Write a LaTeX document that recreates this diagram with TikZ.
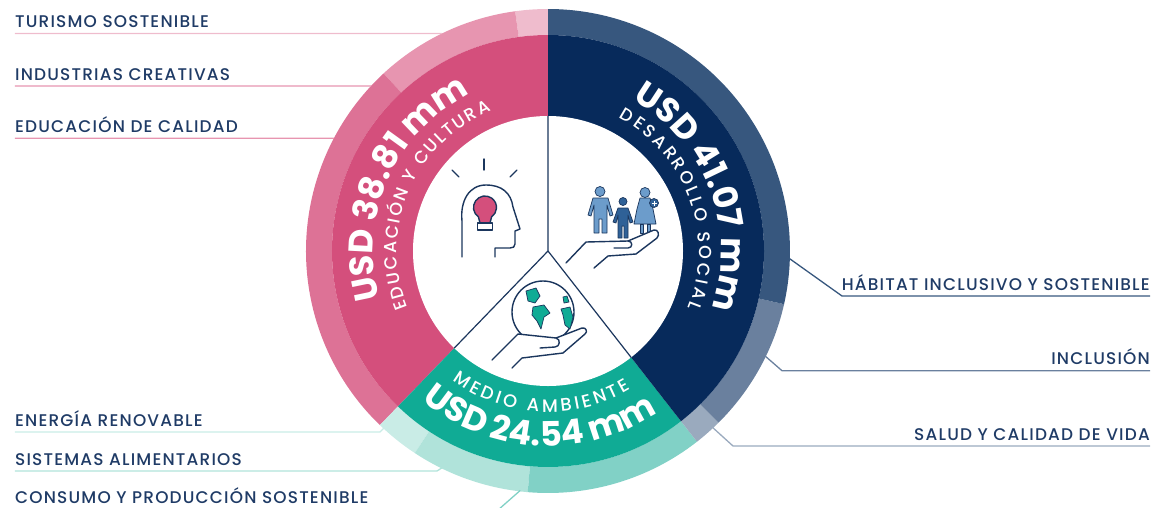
\documentclass[tikz,border=0pt]{standalone}
\usepackage{fontspec}
\setmainfont{Poppins}
\IfFontExistsTF{Poppins Medium}
	{\newfontfamily\lblfont{Poppins Medium}[LetterSpace=7]
	 \newfontfamily\smlfont{Poppins Medium}}
	{\newfontfamily\lblfont{Poppins}[LetterSpace=7, FakeBold=0.3]
	 \newfontfamily\smlfont{Poppins}[FakeBold=0.3]}
\newfontfamily\numfont{Poppins}
\usetikzlibrary{decorations.text, positioning}

\definecolor{pinkS}{HTML}{D44F7C}
\definecolor{pinkD}{HTML}{DD7296}
\definecolor{pinkM}{HTML}{E795B0}
\definecolor{pinkL}{HTML}{EFBCCD}
\definecolor{blueS}{HTML}{072A5B}
\definecolor{blueD}{HTML}{37577E}
\definecolor{blueM}{HTML}{6A809E}
\definecolor{blueL}{HTML}{9AAABE}
\definecolor{tealS}{HTML}{10AB95}
\definecolor{tealD}{HTML}{81D1C6}
\definecolor{tealM}{HTML}{B0E3DA}
\definecolor{tealL}{HTML}{C9ECE6}
\definecolor{txtnavy}{HTML}{1F3B66}
\definecolor{iconnavy}{HTML}{1B365D}
\definecolor{personL}{HTML}{6C9CCB}
\definecolor{personD}{HTML}{2F6197}

\begin{document}
\begin{tikzpicture}[x=1pt,y=1pt]
		\tikzstyle{Label} = [inner sep=0pt, text=txtnavy, font=\lblfont\fontsize{16.9}{18}\selectfont]
		\tikzstyle{leader} = [line width=1.3pt]
		\tikzstyle{spoke} = [draw=iconnavy, line width=1.2pt]
		\tikzstyle{icon} = [draw=iconnavy, line width=1.4pt, line join=round, line cap=round]
		\tikzstyle{person} = [draw=iconnavy, line width=0.7pt, line join=round]
		
		\useasboundingbox (-548,-256) rectangle (621,251);
		\clip (-548,-256) rectangle (621,251);
		
		% outer ring
		\fill[pinkL] (90:216) arc[start angle=90, end angle=97.8, radius=216] -- (97.8:242) arc[start angle=97.8, end angle=90, radius=242] -- cycle;
		\fill[pinkM] (97.8:216) arc[start angle=97.8, end angle=132.8, radius=216] -- (132.8:242) arc[start angle=132.8, end angle=97.8, radius=242] -- cycle;
		\fill[pinkD] (132.8:216) arc[start angle=132.8, end angle=226, radius=216] -- (226:242) arc[start angle=226, end angle=132.8, radius=242] -- cycle;
		\fill[tealL] (226:216) arc[start angle=226, end angle=236.6, radius=216] -- (236.6:242) arc[start angle=236.6, end angle=226, radius=242] -- cycle;
		\fill[tealM] (236.6:216) arc[start angle=236.6, end angle=265.2, radius=216] -- (265.2:242) arc[start angle=265.2, end angle=236.6, radius=242] -- cycle;
		\fill[tealD] (265.2:216) arc[start angle=265.2, end angle=308, radius=216] -- (308:242) arc[start angle=308, end angle=265.2, radius=242] -- cycle;
		\fill[blueL] (-52:216) arc[start angle=-52, end angle=-45.2, radius=216] -- (-45.2:242) arc[start angle=-45.2, end angle=-52, radius=242] -- cycle;
		\fill[blueM] (-45.2:216) arc[start angle=-45.2, end angle=-12.7, radius=216] -- (-12.7:242) arc[start angle=-12.7, end angle=-45.2, radius=242] -- cycle;
		\fill[blueD] (-12.7:216) arc[start angle=-12.7, end angle=90, radius=216] -- (90:242) arc[start angle=90, end angle=-12.7, radius=242] -- cycle;
		
		% sectors
		\fill[pinkS] (0,0) -- (90:216) arc[start angle=90, end angle=226, radius=216] -- cycle;
		\fill[tealS] (0,0) -- (226:216) arc[start angle=226, end angle=308, radius=216] -- cycle;
		\fill[blueS] (0,0) -- (-52:216) arc[start angle=-52, end angle=90, radius=216] -- cycle;
		\fill[white] (0,0) circle[radius=135];
		
		\coordinate (ctr) at (0,0);
		\coordinate (sp1) at (90:135);
		\coordinate (sp2) at (226:135);
		\coordinate (sp3) at (308:135);
		\draw[spoke] (sp1) -- (ctr) -- (sp2);
		\draw[spoke] (ctr) -- (sp3);
		
		% texts along the sectors
		\path[decorate, decoration={text along path, text color=white, text align=center,
			text={|\numfont\bfseries\fontsize{34}{36}\selectfont|USD 38.81 mm}}]
		(221:175) arc[start angle=221, end angle=91, radius=175];
		\path[decorate, decoration={text along path, text color=white, text align={fit to path},
			text={|\smlfont\fontsize{17.5}{19}\selectfont|EDUCACIÓN Y CULTURA}}]
		(202:151) arc[start angle=202, end angle=112, radius=151];
		
		\path[decorate, decoration={text along path, text color=white, text align=center,
			text={|\numfont\bfseries\fontsize{34}{36}\selectfont|USD 41.07 mm}}]
		(85:173) arc[start angle=85, end angle=-43.4, radius=173];
		\path[decorate, decoration={text along path, text color=white, text align={fit to path},
			text={|\smlfont\fontsize{17.5}{19}\selectfont|DESARROLLO SOCIAL}}]
		(62:151) arc[start angle=62, end angle=-22, radius=151];
		
		\path[decorate, decoration={text along path, text color=white, text align=center,
			text={|\numfont\bfseries\fontsize{34}{36}\selectfont|USD 24.54 mm}}]
		(227:195) arc[start angle=227, end angle=307, radius=195];
		\path[decorate, decoration={text along path, text color=white, text align={fit to path},
			text={|\smlfont\fontsize{18}{20}\selectfont|MEDIO AMBIENTE}}]
		(233.6:161) arc[start angle=233.6, end angle=301, radius=161];
		
		% head with bulb
		\draw[icon] (-96,81) -- (-89,74);
		\draw[icon] (-64,92) -- (-64,81);
		\draw[icon] (-31,81) -- (-38,74);
		\draw[icon] (-86,-6) -- (-86,30) .. controls (-88,50) and (-79,66) .. (-62,66) .. controls (-46,66) and (-37,58) .. (-35,44) -- (-28,22) -- (-33,20) -- (-33,7) .. controls (-33,4) and (-35,3) .. (-38,3) -- (-53,3) -- (-53,-6);
		\filldraw[icon, fill=pinkS] (-68,28) -- (-69.6,34.1) arc[start angle=235, end angle=-55, radius=11.5] -- (-58,28) -- cycle;
		\filldraw[icon, fill=white] (-70.5,28) rectangle (-55.5,21);
		
		% family on a hand
		\filldraw[person, fill=personL] (52,59.5) circle[radius=5];
		\filldraw[person, fill=personL] (45,53) -- (60,53) -- (65,36) -- (62,35) -- (59,46) -- (59,18) -- (54,18) -- (54,32) -- (51,32) -- (51,18) -- (46,18) -- (46,46) -- (43,35) -- (40,36) -- cycle;
		\filldraw[person, fill=personD] (75,49.5) circle[radius=4];
		\filldraw[person, fill=personD] (70,43) -- (80,43) -- (85,29) -- (82,28) -- (80,36) -- (80,13) -- (76,13) -- (76,25) -- (74,25) -- (74,13) -- (70,13) -- (70,36) -- (68,28) -- (65,29) -- cycle;
		\filldraw[person, fill=personL] (97,58.5) circle[radius=5];
		\filldraw[person, fill=personL] (92,53) -- (102,53) -- (105,42) -- (108,27) -- (86,27) -- (89,42) -- cycle;
		\filldraw[person, fill=personL] (92,27) rectangle (95,18);
		\filldraw[person, fill=personL] (99,27) rectangle (102,18);
		\filldraw[person, fill=personD] (106,48) circle[radius=4.5];
		\draw[white, line width=0.8pt] (103.5,48) -- (108.5,48) (106,45.5) -- (106,50.5);
		\filldraw[icon, fill=white] (18,-12) -- (38,9) -- (80,10) -- (106,21) .. controls (110,22) and (112,16) .. (109,13) -- (88,-3) -- (60,-5) -- (46,-17);
		\draw[icon] (80,10) .. controls (85,10) and (85,3) .. (80,3) -- (66,3);
		
		% globe on a hand
		\filldraw[icon, fill=white] (-5,-61) circle[radius=31];
		\filldraw[person, fill=tealS] (-22,-40) -- (-12,-37) -- (-8,-45) -- (-13,-52) -- (-20,-50) -- cycle;
		\filldraw[person, fill=tealS] (-15,-56) -- (-4,-54) -- (2,-62) -- (-4,-66) -- (-7,-78) -- (-11,-70) -- (-16,-64) -- cycle;
		\filldraw[person, fill=tealS] (13,-58) -- (22,-56) -- (25,-66) -- (22,-78) -- (17,-74) -- (15,-64) -- cycle;
		\filldraw[person, fill=tealS] (15,-46) -- (19,-45) -- (21,-51) -- (16,-52) -- cycle;
		\filldraw[icon, fill=white] (-56,-109) -- (-30,-83) -- (8,-87) -- (34,-77) .. controls (38,-76) and (40,-81) .. (37,-83) -- (15,-102) -- (-26,-107) -- (-36,-117);
		\draw[icon] (8,-87) .. controls (13,-88) and (12,-96) .. (7,-96) -- (-8,-97);
		
		% labels, left
		\coordinate (tur-a) at (-533,217.5);
		\coordinate (tur-p) at (116:242);
		\node (tur) [Label, anchor=base west] at (-533,223.5) {TURISMO SOSTENIBLE};
		\draw[leader, pinkL] (tur-a) -- (tur-p);
		
		\coordinate (ind-a) at (-533,165);
		\coordinate (ind-p) at (137:242);
		\node (ind) [Label, anchor=base west] at (-533,171) {INDUSTRIAS CREATIVAS};
		\draw[leader, pinkM] (ind-a) -- (ind-p);
		
		\coordinate (edu-a) at (-533,112.7);
		\coordinate (edu-p) at (152.25:242);
		\node (edu) [Label, anchor=base west] at (-533,118.7) {EDUCACIÓN DE CALIDAD};
		\draw[leader, pinkM] (edu-a) -- (edu-p);
		
		\coordinate (ene-a) at (-533,-181);
		\coordinate (ene-k) at (-168,-181);
		\coordinate (ene-p) at (227.2:241);
		\node (ene) [Label, anchor=base west] at (-533,-175) {ENERGÍA RENOVABLE};
		\draw[leader, tealL] (ene-a) -- (ene-k) -- (ene-p);
		
		\coordinate (sis-a) at (-533,-220);
		\coordinate (sis-k) at (-111,-220);
		\coordinate (sis-p) at (244:241);
		\node (sis) [Label, anchor=base west] at (-533,-214) {SISTEMAS ALIMENTARIOS};
		\draw[leader, tealM] (sis-a) -- (sis-k) -- (sis-p);
		
		\coordinate (con-a) at (-533,-259);
		\coordinate (con-k) at (-50,-259);
		\coordinate (con-p) at (263.4:241);
		\node (con) [Label, anchor=base west] at (-533,-252.3) {CONSUMO Y PRODUCCIÓN SOSTENIBLE};
		\draw[leader, tealD] (con-a) -- (con-k) -- (con-p);
		
		% labels, right
		\coordinate (hab-a) at (602,-45);
		\coordinate (hab-k) at (294,-45);
		\coordinate (hab-p) at (-1.7:241);
		\node (hab) [Label, anchor=base east] at (602,-39) {HÁBITAT INCLUSIVO Y SOSTENIBLE};
		\draw[leader, blueD] (hab-a) -- (hab-k) -- (hab-p);
		
		\coordinate (inc-a) at (602,-119.7);
		\coordinate (inc-k) at (234,-119.7);
		\coordinate (inc-p) at (-25.8:241);
		\node (inc) [Label, anchor=base east] at (602,-113.7) {INCLUSIÓN};
		\draw[leader, blueM] (inc-a) -- (inc-k) -- (inc-p);
		
		\coordinate (sal-a) at (602,-195);
		\coordinate (sal-k) at (185,-195);
		\coordinate (sal-p) at (-47:241);
		\node (sal) [Label, anchor=base east] at (602,-189) {SALUD Y CALIDAD DE VIDA};
		\draw[leader, blueL] (sal-a) -- (sal-k) -- (sal-p);
\end{tikzpicture}
\end{document}
